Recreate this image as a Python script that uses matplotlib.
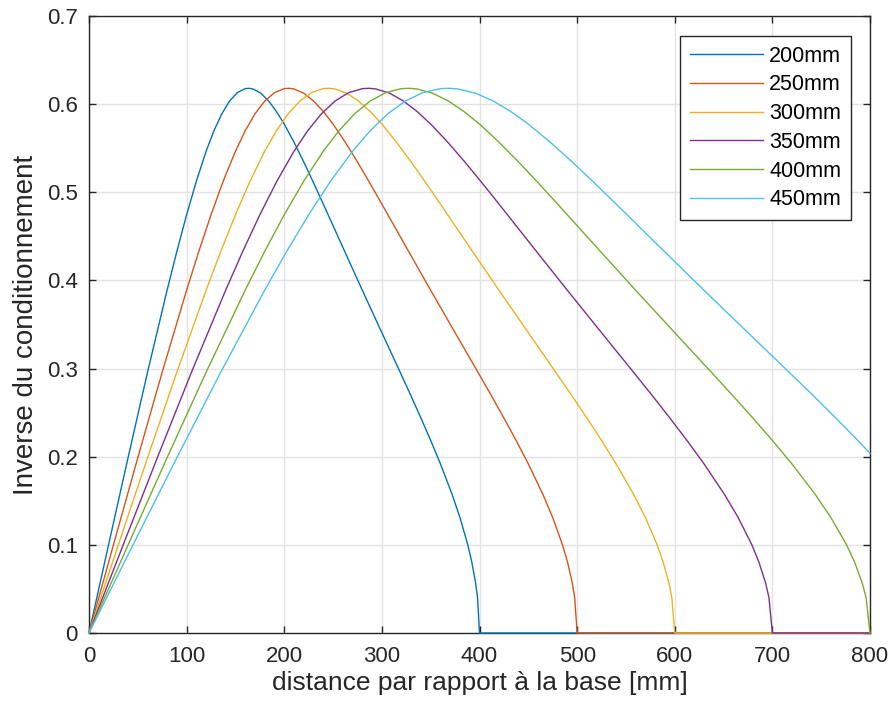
import matplotlib
matplotlib.use('Agg')
import matplotlib.pyplot as plt

# inverse condition number of the arm Jacobian vs. distance from the base,
# one curve per link length; past full reach (2L) the value stays at 0
labels = ['200mm', '250mm', '300mm', '350mm', '400mm', '450mm']

r_200 = [0, 20, 40, 60, 80, 90, 100, 110, 120, 128, 136, 144, 152, 160, 164, 168,
         176, 184, 192, 200, 210, 220, 230, 240, 250, 260, 280, 300, 320, 330,
         340, 350, 360, 372, 380, 388, 392, 396, 398, 400, 800]
k_200 = [0, 0.0999, 0.1989, 0.2960, 0.3890, 0.4330, 0.4745, 0.5127, 0.5466, 0.5698,
         0.5890, 0.6035, 0.6131, 0.6176, 0.6180, 0.6172, 0.6124, 0.6036, 0.5917,
         0.5774, 0.5568, 0.5344, 0.5108, 0.4866, 0.4621, 0.4376, 0.3888, 0.3407,
         0.2928, 0.2686, 0.2439, 0.2185, 0.1919, 0.1571, 0.1309, 0.1000, 0.0811,
         0.0570, 0.0401, 0, 0]

r_250 = [0, 25, 50, 75, 100, 112.5, 125, 137.5, 150, 160, 170, 180, 190, 200, 205,
         210, 220, 230, 240, 250, 262.5, 275, 287.5, 300, 312.5, 325, 350, 375, 400,
         412.5, 425, 437.5, 450, 465, 475, 485, 490, 495, 497.5, 500, 800]
k_250 = [0, 0.0999, 0.1989, 0.2960, 0.3890, 0.4330, 0.4745, 0.5127, 0.5466, 0.5698,
         0.5890, 0.6035, 0.6131, 0.6176, 0.6180, 0.6172, 0.6124, 0.6036, 0.5917,
         0.5774, 0.5568, 0.5344, 0.5108, 0.4866, 0.4621, 0.4376, 0.3888, 0.3407,
         0.2928, 0.2686, 0.2439, 0.2185, 0.1919, 0.1571, 0.1309, 0.1000, 0.0811,
         0.0570, 0.0401, 0, 0]

r_300 = [0, 30, 60, 90, 120, 135, 150, 165, 180, 192, 204, 216, 228, 240, 246, 252,
         264, 276, 288, 300, 315, 330, 345, 360, 375, 390, 420, 450, 480, 495, 510,
         525, 540, 558, 570, 582, 588, 594, 597, 600, 800]
k_300 = [0, 0.0999, 0.1989, 0.2960, 0.3890, 0.4330, 0.4745, 0.5127, 0.5466, 0.5698,
         0.5890, 0.6035, 0.6131, 0.6176, 0.6180, 0.6172, 0.6124, 0.6036, 0.5917,
         0.5774, 0.5568, 0.5344, 0.5108, 0.4866, 0.4621, 0.4376, 0.3888, 0.3407,
         0.2928, 0.2686, 0.2439, 0.2185, 0.1919, 0.1571, 0.1309, 0.1000, 0.0811,
         0.0570, 0.0401, 0, 0]

r_350 = [0, 35, 70, 105, 140, 157.5, 175, 192.5, 210, 224, 238, 252, 266, 280, 287,
         294, 308, 322, 336, 350, 367.5, 385, 402.5, 420, 437.5, 455, 490, 525, 560,
         577.5, 595, 612.5, 630, 651, 665, 679, 686, 693, 696.5, 700, 800]
k_350 = [0, 0.0999, 0.1989, 0.2960, 0.3890, 0.4330, 0.4745, 0.5127, 0.5466, 0.5698,
         0.5890, 0.6035, 0.6131, 0.6176, 0.6180, 0.6172, 0.6124, 0.6036, 0.5917,
         0.5774, 0.5568, 0.5344, 0.5108, 0.4866, 0.4621, 0.4376, 0.3888, 0.3407,
         0.2928, 0.2686, 0.2439, 0.2185, 0.1919, 0.1571, 0.1309, 0.1000, 0.0811,
         0.0570, 0.0401, 0, 0]

r_400 = [0, 40, 80, 120, 160, 180, 200, 220, 240, 256, 272, 288, 304, 320, 328, 336,
         352, 368, 384, 400, 420, 440, 460, 480, 500, 520, 560, 600, 640, 660, 680,
         700, 720, 744, 760, 776, 784, 792, 796, 800]
k_400 = [0, 0.0999, 0.1989, 0.2960, 0.3890, 0.4330, 0.4745, 0.5127, 0.5466, 0.5698,
         0.5890, 0.6035, 0.6131, 0.6176, 0.6180, 0.6172, 0.6124, 0.6036, 0.5917,
         0.5774, 0.5568, 0.5344, 0.5108, 0.4866, 0.4621, 0.4376, 0.3888, 0.3407,
         0.2928, 0.2686, 0.2439, 0.2185, 0.1919, 0.1571, 0.1309, 0.1000, 0.0811,
         0.0570, 0.0401, 0]

r_450 = [0, 45, 90, 135, 180, 202.5, 225, 247.5, 270, 288, 306, 324, 342, 360, 369,
         378, 396, 414, 432, 450, 472.5, 495, 517.5, 540, 562.5, 585, 630, 675, 720,
         742.5, 765, 787.5, 800]
k_450 = [0, 0.0999, 0.1989, 0.2960, 0.3890, 0.4330, 0.4745, 0.5127, 0.5466, 0.5698,
         0.5890, 0.6035, 0.6131, 0.6176, 0.6180, 0.6172, 0.6124, 0.6036, 0.5917,
         0.5774, 0.5568, 0.5344, 0.5108, 0.4866, 0.4621, 0.4376, 0.3888, 0.3407,
         0.2928, 0.2686, 0.2439, 0.2185, 0.2039]

xticks = [0, 100, 200, 300, 400, 500, 600, 700, 800]
yticks = [0, 0.1, 0.2, 0.3, 0.4, 0.5, 0.6, 0.7]
ytick_labels = ['0', '0.1', '0.2', '0.3', '0.4', '0.5', '0.6', '0.7']

colors = ['#0072BD', '#D95319', '#EDB120', '#7E2F8E', '#77AC30', '#4DBEEE']
series = [(r_200, k_200), (r_250, k_250), (r_300, k_300),
          (r_350, k_350), (r_400, k_400), (r_450, k_450)]

plt.rcParams['font.family'] = ['Liberation Sans', 'DejaVu Sans']

W, H = 894, 713
fig = plt.figure(figsize=(W/100, H/100), dpi=100)
ax  = fig.add_axes([89/W, 1-633/H, 781/W, 617/H])

for (r, k), c, lab in zip(series, colors, labels):
    ax.plot(r, k, color=c, lw=1.0, label=lab, zorder=3, clip_on=False)

ax.set_xlim(0, 800)
ax.set_ylim(0, 0.7)
ax.set_xticks(xticks)
ax.set_yticks(yticks)
ax.set_yticklabels(ytick_labels)
ax.grid(True, color='#e3e3e3', lw=1.0)
ax.set_axisbelow(True)

for s in ax.spines.values():
    s.set_color('#262626')
    s.set_linewidth(1.0)
ax.tick_params(direction='in', length=5, width=1.0, color='#262626',
               top=True, right=True, labelsize=16, labelcolor='#262626')
ax.tick_params(axis='x', pad=9)
ax.tick_params(axis='y', pad=8)

ax.set_xlabel('distance par rapport à la base [mm]', fontsize=19,
              color='#262626', labelpad=3)
ax.set_ylabel('Inverse du conditionnement', fontsize=20,
              color='#262626', labelpad=6)

leg = ax.legend(loc='upper right', bbox_to_anchor=(851/W, 1-36/H),
                bbox_transform=fig.transFigure, borderaxespad=0,
                fontsize=15.5, handlelength=3.4, handletextpad=0.3,
                labelspacing=0.36, borderpad=0.45, fancybox=False,
                framealpha=1, edgecolor='#262626')
leg.get_frame().set_linewidth(1.0)

fig.savefig('out.png', dpi=100)
